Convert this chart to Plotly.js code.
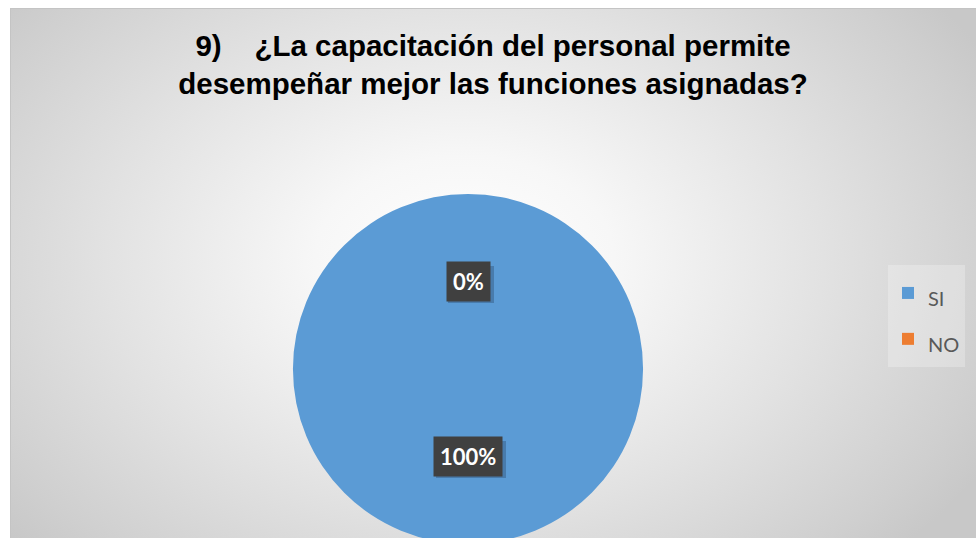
<!DOCTYPE html>
<html>
<head>
<meta charset="utf-8">
<script src="https://cdn.plot.ly/plotly-3.0.1.min.js"></script>
<style>
  html, body { margin:0; padding:0; width:976px; height:538px; overflow:hidden; background:#ffffff; }
  #chart {
    position:absolute; left:10px; top:8px; width:966px; height:560px;
    border-top:1px solid #c4c4c4; border-left:1px solid #c4c4c4; box-sizing:border-box;
    background: radial-gradient(ellipse 62% 75% at 47% 45%, #ffffff 0%, #f7f7f7 25%, #e2e2e2 60%, #cfcfcf 90%, #c8c8c8 100%);
  }
</style>
</head>
<body>
<div id="chart"></div>
<script>
const titleText = "9)&nbsp;&nbsp;&nbsp;&nbsp;¿La capacitación del personal permite<br>desempeñar mejor las funciones asignadas?";
const categories = ["SI", "NO"];
const values = [100, 0];
const colors = ["#5b9bd5", "#ed7d31"];

const W = 966, H = 560;
const cx = 457, cy = 360, r = 175;
const dom = { x: [(cx - r) / W, (cx + r) / W], y: [(H - (cy + r)) / H, (H - (cy - r)) / H] };

const total = values.reduce((a, b) => a + b, 0);
const pct = values.map(v => Math.round(v / total * 100) + "%");

const trace = {
  type: "pie",
  labels: categories.map(c => '<span style="font-size:20px">' + c + '</span>'),
  values: values,
  sort: false,
  direction: "clockwise",
  rotation: 0,
  textinfo: "none",
  hoverinfo: "label+percent",
  marker: { colors: colors, line: { width: 0 } },
  domain: dom
};

// label positions: full slice at bottom, zero slice at top (inside the pie)
const cyPaper = (H - cy) / H;
const labelOffset = 0.5 * r / H;
const labelY = [cyPaper - labelOffset, cyPaper + labelOffset];
const annotations = [];
const shapes = [];
[0, 1].forEach(i => {
  const bw = 12 * pct[i].length + 22, bh = 37;
  const sx = cx + 3, sy = H * (1 - labelY[i]) + 3;
  shapes.push({
    type: "rect", xref: "paper", yref: "paper", layer: "above",
    x0: (sx - bw / 2) / W, x1: (sx + bw / 2) / W,
    y0: (H - (sy + bh / 2)) / H, y1: (H - (sy - bh / 2)) / H,
    fillcolor: "rgba(30,50,80,0.3)", line: { width: 0 }
  });
  annotations.push({
    x: cx / W, y: labelY[i], xref: "paper", yref: "paper",
    xanchor: "center", yanchor: "middle",
    text: '<b>' + pct[i] + '</b>', showarrow: false,
    font: { family: "Lato, 'Open Sans', sans-serif", size: 22, color: "#ffffff" },
    bgcolor: "#404040", borderpad: 6
  });
});

const layout = {
  width: W, height: H,
  margin: { l: 0, r: 0, t: 0, b: 0 },
  paper_bgcolor: "rgba(0,0,0,0)",
  plot_bgcolor: "rgba(0,0,0,0)",
  title: {
    text: titleText,
    font: { family: "Liberation Sans, Arial, sans-serif", size: 29.5, color: "#000000", weight: "bold" },
    x: 482 / W, xanchor: "center",
    y: 1 - 47 / H, yanchor: "top"
  },
  showlegend: true,
  legend: {
    x: 877 / W, xanchor: "left",
    y: (H - 256) / H, yanchor: "top",
    bgcolor: "rgba(255,255,255,0.25)",
    font: { family: "Lato, 'Open Sans', sans-serif", size: 33, color: "#595959" }
  },
  shapes: shapes,
  annotations: annotations
};

Plotly.newPlot("chart", [trace], layout, { displayModeBar: false, staticPlot: true });
</script>
</body>
</html>
